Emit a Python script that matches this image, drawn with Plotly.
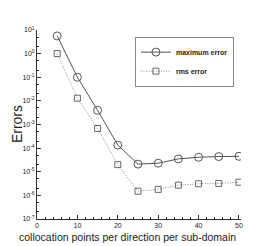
import plotly.graph_objects as go

points = [5, 10, 15, 20, 25, 30, 35, 40, 45, 50]
max_error = [5.6, 0.1, 4.0e-3, 1.35e-4, 2.1e-5, 2.3e-5, 3.5e-5, 4.1e-5, 4.4e-5, 4.5e-5]
rms_error = [1.0, 1.3e-2, 6.8e-4, 2.0e-5, 1.5e-6, 1.8e-6, 2.7e-6, 3.1e-6, 3.2e-6, 3.6e-6]
x_ticks = [0, 10, 20, 30, 40, 50]
y_exponents = [-7, -6, -5, -4, -3, -2, -1, 0, 1]
x_title = "collocation points per direction per sub-domain"
y_title = "Errors"

fig = go.Figure()
fig.add_trace(go.Scatter(
    x=points, y=max_error, mode="lines+markers", name="<b>maximum error</b>",
    line=dict(color="#555555", width=1),
    marker=dict(symbol="circle-open", size=8, color="#555555", line=dict(width=1)),
))
fig.add_trace(go.Scatter(
    x=points, y=rms_error, mode="lines+markers", name="<b>rms error</b>",
    line=dict(color="#8a8a8a", width=1, dash="1px,1.5px"),
    marker=dict(symbol="square-open", size=6, color="#666666", line=dict(width=1)),
))

fig.update_layout(
    width=277, height=246,
    margin=dict(l=37, r=36, t=30, b=27, autoexpand=False),
    paper_bgcolor="white", plot_bgcolor="white",
    font=dict(family="Liberation Sans, Arial, sans-serif", color="#222222"),
    showlegend=True, hovermode=False,
    legend=dict(
        x=0.48, y=0.965, xanchor="left", yanchor="top",
        bgcolor="white", bordercolor="#888888", borderwidth=1,
        font=dict(size=7, color="#222222"),
        itemwidth=30, tracegroupgap=0,
    ),
    annotations=[
        dict(text=x_title, xref="paper", yref="paper", x=0.444, y=-0.095,
             xanchor="center", yanchor="middle", showarrow=False,
             font=dict(size=10.5, color="#222222")),
        dict(text=y_title, xref="paper", yref="paper", x=-0.10, y=0.5,
             xanchor="center", yanchor="middle", showarrow=False, textangle=-90,
             font=dict(size=14, color="#222222")),
    ],
)
fig.update_xaxes(
    range=[0, 50.5], showgrid=False, zeroline=False, automargin=False,
    showline=True, linecolor="#333333", linewidth=1,
    ticks="inside", ticklen=4, tickcolor="#333333",
    tickvals=x_ticks, tickfont=dict(size=7),
    minor=dict(ticks="inside", ticklen=2, dtick=2, tickcolor="#333333"),
)
fig.update_yaxes(
    type="log", range=[-7, 1], showgrid=False, zeroline=False, automargin=False,
    showline=True, linecolor="#333333", linewidth=1,
    ticks="inside", ticklen=4, tickcolor="#333333",
    tickvals=[10.0 ** e for e in y_exponents],
    ticktext=["10<sup>%d</sup>" % e for e in y_exponents],
    tickfont=dict(size=7),
    minor=dict(ticks="inside", ticklen=2, tickcolor="#333333"),
)

fig.write_html("out.html", config={"displayModeBar": False, "staticPlot": True},
               post_script="document.body.style.margin='0';")
